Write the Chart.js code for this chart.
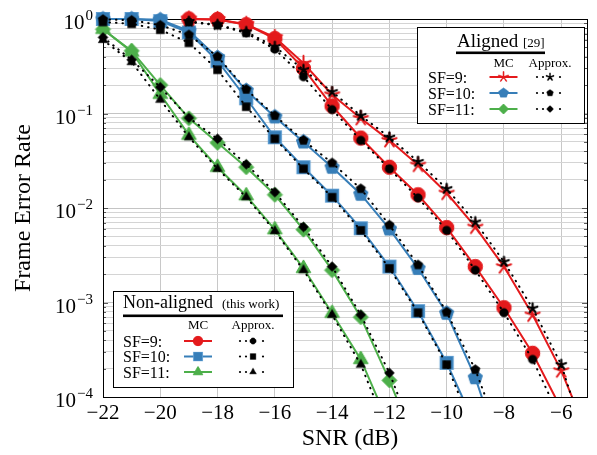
<!DOCTYPE html>
<html>
<head>
<meta charset="utf-8">
<script src="https://cdn.jsdelivr.net/npm/chart.js@4.4.1/dist/chart.umd.min.js"></script>
<style>
  html, body { margin: 0; padding: 0; background: #fff; }
</style>
</head>
<body>
<canvas id="fer" width="597" height="455"></canvas>
<script>
// SNR points (dB)
const snr = [-22, -21, -20, -19, -18, -17, -16, -15, -14, -13, -12, -11, -10, -9, -8, -7, -6, -5];

// Non-aligned (this work): Monte Carlo and approximation
const naSF9mc  = [null, null, null, 1.0, 0.99, 0.87, 0.62, 0.30, 0.12, 0.055, 0.027, 0.0138, 0.0062, 0.0024, 0.00088, 0.00029, 0.000075, null];
const naSF9ap  = [null, null, null, 0.93, 0.86, 0.71, 0.48, 0.245, 0.11, 0.052, 0.026, 0.0128, 0.0058, 0.0022, 0.00078, 0.00025, 0.000056, null];
const naSF10mc = [1.0, 1.0, 0.95, 0.72, 0.36, 0.145, 0.056, 0.027, 0.0135, 0.0061, 0.0024, 0.00081, 0.00023, 0.00005, null, null, null, null];
const naSF10ap = [0.93, 0.89, 0.77, 0.56, 0.29, 0.118, 0.054, 0.026, 0.013, 0.0058, 0.0023, 0.00078, 0.00022, 0.00004, null, null, null, null];
const naSF11mc = [0.78, 0.45, 0.16, 0.059, 0.027, 0.0135, 0.0059, 0.0023, 0.00077, 0.00025, 0.00005, null, null, null, null, null, null, null];
const naSF11ap = [0.6, 0.35, 0.14, 0.056, 0.026, 0.013, 0.0057, 0.0022, 0.00074, 0.00022, 0.00004, null, null, null, null, null, null, null];

// Aligned [29]: Monte Carlo and approximation
const alSF9mc  = [null, null, null, 1.0, 0.99, 0.88, 0.64, 0.34, 0.158, 0.089, 0.052, 0.0285, 0.0144, 0.0063, 0.0024, 0.00074, 0.00019, 0.000035];
const alSF9ap  = [null, null, null, 0.94, 0.87, 0.73, 0.51, 0.29, 0.17, 0.095, 0.056, 0.031, 0.016, 0.0071, 0.0027, 0.00087, 0.00022, 0.000025];
const alSF10mc = [1.0, 1.0, 0.98, 0.75, 0.39, 0.175, 0.092, 0.05, 0.027, 0.014, 0.006, 0.0023, 0.00077, 0.00016, 0.00002, null, null, null];
const alSF10ap = [0.99, 0.97, 0.86, 0.68, 0.40, 0.18, 0.095, 0.052, 0.030, 0.016, 0.0066, 0.0025, 0.00079, 0.000195, 0.00003, null, null, null];
const alSF11mc = [0.78, 0.46, 0.2, 0.089, 0.049, 0.027, 0.0138, 0.0059, 0.0022, 0.0007, 0.00015, 0.000027, null, null, null, null, null, null];
const alSF11ap = [0.64, 0.37, 0.19, 0.09, 0.054, 0.029, 0.0147, 0.0063, 0.0024, 0.00074, 0.00018, 0.00003, null, null, null, null, null, null];

const xTicks = [-22, -20, -18, -16, -14, -12, -10, -8, -6];
const yDecades = [0, -1, -2, -3, -4];

const RED = '#e41a1c', BLUE = '#377eb8', GREEN = '#4daf4a';
const SERIF = '"Liberation Serif", "DejaVu Serif", serif';

function toPoints(arr) {
    return snr.map((x, i) => ({ x: x, y: arr[i] })).filter(p => p.y !== null);
}

// marker images (pgfplots-like marks)
function mark(shape, r, fill, stroke, lw) {
    const size = Math.ceil(2 * r + 2 * lw + 4);
    const c = document.createElement('canvas');
    c.width = size; c.height = size;
    const g = c.getContext('2d');
    const cx = size / 2, cy = size / 2;
    g.lineWidth = lw;
    g.strokeStyle = stroke;
    g.fillStyle = fill;
    g.beginPath();
    if (shape == 'circle') {
        g.arc(cx, cy, r, 0, Math.PI * 2);
    } else if (shape == 'square') {
        g.rect(cx - r, cy - r, 2 * r, 2 * r);
    } else if (shape == 'star') {
        for (var k = 0; k < 5; k++) {
            var a = -Math.PI / 2 + k * 2 * Math.PI / 5;
            g.moveTo(cx, cy);
            g.lineTo(cx + r * Math.cos(a), cy + r * Math.sin(a));
        }
        g.lineCap = 'round';
        g.stroke();
        return c;
    } else {
        var n = shape == 'triangle' ? 3 : (shape == 'pentagon' ? 5 : 4);
        for (var k = 0; k < n; k++) {
            var a = -Math.PI / 2 + k * 2 * Math.PI / n;
            var px = cx + r * Math.cos(a), py = cy + r * Math.sin(a);
            if (k == 0) g.moveTo(px, py); else g.lineTo(px, py);
        }
        g.closePath();
    }
    g.fill();
    g.stroke();
    return c;
}

const mk = {
    naSF9mc: mark('circle', 7.2, RED, RED, 1),
    naSF10mc: mark('square', 6.5, BLUE, '#5b9bd0', 1.2),
    naSF11mc: mark('triangle', 8.5, GREEN, GREEN, 1),
    alSF9mc: mark('star', 7.5, RED, RED, 2),
    alSF10mc: mark('pentagon', 7.5, BLUE, BLUE, 1),
    alSF11mc: mark('diamond', 7.5, GREEN, GREEN, 1),
    naSF9ap: mark('circle', 4.3, '#000', '#000', 0.5),
    naSF10ap: mark('square', 4, '#000', '#000', 0.5),
    naSF11ap: mark('triangle', 5.5, '#000', '#000', 0.5),
    alSF9ap: mark('star', 5, '#000', '#000', 2.2),
    alSF10ap: mark('pentagon', 5, '#000', '#000', 0.5),
    alSF11ap: mark('diamond', 5, '#000', '#000', 0.5)
};

const bottomClip = { left: 12, top: 12, right: 12, bottom: 0 };

function mcSet(data, color, m, order) {
    return {
        data: toPoints(data), borderColor: color, backgroundColor: color, borderWidth: 2,
        pointStyle: m, pointRadius: 8, tension: 0, fill: false, order: order, clip: bottomClip
    };
}
function apSet(data, m) {
    return {
        data: toPoints(data), borderColor: '#000', backgroundColor: '#000', borderWidth: 2,
        borderDash: [0.5, 6], borderCapStyle: 'round', pointStyle: m, pointRadius: 6,
        tension: 0, fill: false, order: 0, clip: bottomClip
    };
}

function expLabel(p) {
    return p == 0 ? '0' : '\u2212' + (-p);
}

const decorPlugin = {
    id: 'decor',
    beforeDatasetsDraw(chart) {
        const ctx = chart.ctx, a = chart.chartArea, ys = chart.scales.y;
        ctx.save();
        // small inward ticks on the y axis
        ctx.strokeStyle = '#333';
        ctx.lineWidth = 0.8;
        ys.ticks.forEach(t => {
            const y = Math.round(ys.getPixelForValue(t.value)) + 0.5;
            const len = t.major ? 5 : 3;
            ctx.beginPath();
            ctx.moveTo(a.left, y); ctx.lineTo(a.left + len, y);
            ctx.moveTo(a.right, y); ctx.lineTo(a.right - len, y);
            ctx.stroke();
        });
        // frame
        ctx.strokeStyle = '#000';
        ctx.lineWidth = 1;
        ctx.strokeRect(Math.round(a.left) + 0.5, Math.round(a.top) + 0.5, Math.round(a.right - a.left), Math.round(a.bottom - a.top));
        ctx.restore();
    },
    afterDraw(chart) {
        const ctx = chart.ctx, ys = chart.scales.y;
        ctx.save();
        ctx.fillStyle = '#000';
        ctx.textBaseline = 'alphabetic';

        // y tick labels 10^k
        yDecades.forEach(p => {
            const y = ys.getPixelForValue(Math.pow(10, p));
            const e = expLabel(p);
            ctx.font = '15px ' + SERIF;
            const ew = ctx.measureText(e).width;
            ctx.font = '21px ' + SERIF;
            const bw = ctx.measureText('10').width;
            const right = 93;
            ctx.textAlign = 'left';
            ctx.fillText('10', right - ew - bw - 1, y + 10);
            ctx.font = '15px ' + SERIF;
            ctx.fillText(e, right - ew, y + 1);
        });

        // axis titles
        ctx.font = '24px ' + SERIF;
        ctx.textAlign = 'center';
        ctx.fillText('SNR (dB)', 350, 445);
        ctx.save();
        ctx.translate(30, 208);
        ctx.rotate(-Math.PI / 2);
        ctx.fillText('Frame Error Rate', 0, 0);
        ctx.restore();

        drawLegend(ctx, {
            box: [417, 27, 167, 96], title: 'Aligned', tx: 457, ty: 47, tsize: 19,
            note: '[29]', nx: 523, under: [456, 545, 51.5],
            mcx: 503.5, apx: 550, hy: 67, labx: 428, rows: [77, 93, 109],
            marks: [[mk.alSF9mc, mk.alSF9ap, RED], [mk.alSF10mc, mk.alSF10ap, BLUE], [mk.alSF11mc, mk.alSF11ap, GREEN]]
        });
        drawLegend(ctx, {
            box: [113, 291, 180, 96], title: 'Non-aligned', tx: 123, ty: 308, tsize: 18,
            note: '(this work)', nx: 222, under: [123, 283, 314.5],
            mcx: 198, apx: 253, hy: 329, labx: 123, rows: [341, 356.5, 372],
            marks: [[mk.naSF9mc, mk.naSF9ap, RED], [mk.naSF10mc, mk.naSF10ap, BLUE], [mk.naSF11mc, mk.naSF11ap, GREEN]]
        });
        ctx.restore();
    }
};

const rowNames = ['SF=9:', 'SF=10:', 'SF=11:'];

function drawLegend(ctx, L) {
    const b = L.box;
    ctx.fillStyle = '#fff';
    ctx.fillRect(b[0], b[1], b[2], b[3]);
    ctx.strokeStyle = '#000';
    ctx.lineWidth = 1;
    ctx.strokeRect(b[0] + 0.5, b[1] + 0.5, b[2], b[3]);

    ctx.fillStyle = '#000';
    ctx.textAlign = 'left';
    ctx.font = L.tsize + 'px ' + SERIF;
    ctx.fillText(L.title, L.tx, L.ty);
    ctx.font = '13px ' + SERIF;
    ctx.fillText(L.note, L.nx, L.ty);
    ctx.fillRect(L.under[0], L.under[2], L.under[1] - L.under[0], 2.6);

    ctx.textAlign = 'center';
    ctx.font = '13px ' + SERIF;
    ctx.fillText('MC', L.mcx, L.hy);
    ctx.fillText('Approx.', L.apx, L.hy);

    L.rows.forEach((y, i) => {
        const m = L.marks[i];
        ctx.textAlign = 'left';
        ctx.fillStyle = '#000';
        ctx.font = '16px ' + SERIF;
        ctx.fillText(rowNames[i], L.labx, y + 5.5);
        // MC sample
        ctx.strokeStyle = m[2];
        ctx.lineWidth = 2;
        ctx.beginPath();
        ctx.moveTo(L.mcx - 14, y); ctx.lineTo(L.mcx + 14, y);
        ctx.stroke();
        const s1 = 0.68;
        ctx.drawImage(m[0], L.mcx - m[0].width * s1 / 2, y - m[0].height * s1 / 2, m[0].width * s1, m[0].height * s1);
        // approx sample
        ctx.fillStyle = '#000';
        [-13, -7, 10].forEach(dx => {
            ctx.beginPath();
            ctx.arc(L.apx + dx, y, 1.1, 0, Math.PI * 2);
            ctx.fill();
        });
        const s2 = 0.72;
        ctx.drawImage(m[1], L.apx - m[1].width * s2 / 2, y - m[1].height * s2 / 2, m[1].width * s2, m[1].height * s2);
    });
}

new Chart(document.getElementById('fer'), {
    type: 'line',
    data: {
        datasets: [
            apSet(naSF9ap, mk.naSF9ap),
            apSet(naSF10ap, mk.naSF10ap),
            apSet(naSF11ap, mk.naSF11ap),
            apSet(alSF9ap, mk.alSF9ap),
            apSet(alSF10ap, mk.alSF10ap),
            apSet(alSF11ap, mk.alSF11ap),
            mcSet(alSF9mc, RED, mk.alSF9mc, 1),
            mcSet(alSF10mc, BLUE, mk.alSF10mc, 1),
            mcSet(alSF11mc, GREEN, mk.alSF11mc, 1),
            mcSet(naSF9mc, RED, mk.naSF9mc, 2),
            mcSet(naSF10mc, BLUE, mk.naSF10mc, 2),
            mcSet(naSF11mc, GREEN, mk.naSF11mc, 2)
        ]
    },
    options: {
        responsive: false,
        devicePixelRatio: 1,
        animation: false,
        layout: { padding: { top: 19, right: 1, bottom: 0, left: 0 } },
        plugins: { legend: { display: false }, tooltip: { enabled: false } },
        scales: {
            x: {
                type: 'linear', min: -22, max: -5.1,
                afterBuildTicks: s => { s.ticks = xTicks.map(v => ({ value: v })); },
                afterFit: s => { s.height = 58; },
                ticks: {
                    font: { family: SERIF, size: 21 }, color: '#000', padding: 4, maxRotation: 0,
                    callback: v => (v < 0 ? '\u2212' + Math.abs(v) : '' + v)
                },
                grid: { color: '#c8c8c8', lineWidth: 1, drawTicks: false },
                border: { display: false }
            },
            y: {
                type: 'logarithmic', min: 1e-4, max: 1,
                afterBuildTicks: s => {
                    const t = [];
                    for (var p = -4; p <= 0; p++) {
                        for (var m = 1; m <= 9; m++) {
                            const v = m * Math.pow(10, p);
                            if (v <= 1) t.push({ value: v, major: m == 1 });
                        }
                    }
                    s.ticks = t;
                },
                afterFit: s => { s.width = 103; },
                ticks: { display: false },
                grid: {
                    color: c => (c.tick && c.tick.major ? '#c4c4c4' : '#d4d4d4'),
                    lineWidth: 1, drawTicks: false
                },
                border: { display: false }
            }
        }
    },
    plugins: [decorPlugin]
});
</script>
</body>
</html>
